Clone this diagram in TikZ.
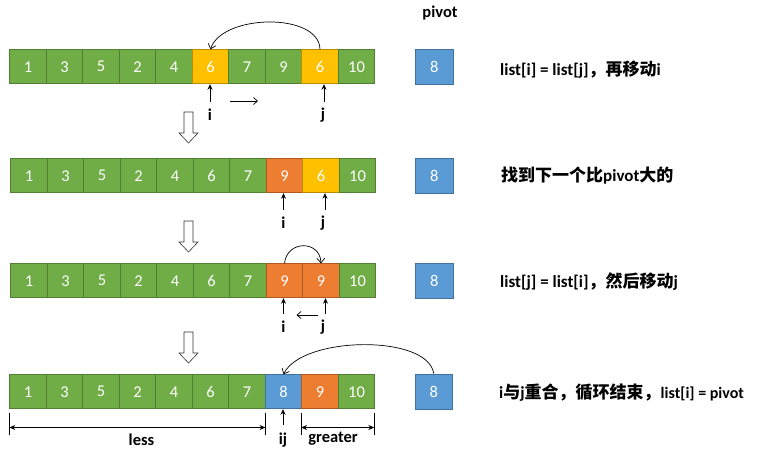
\documentclass[tikz,border=0pt]{standalone}
\usepackage{fontspec}
\setmainfont{Carlito}
\newfontfamily\cjk{Noto Sans CJK SC}
\usetikzlibrary{arrows.meta}
\definecolor{cgreen}{HTML}{70AD47}
\definecolor{cgreenb}{HTML}{507E32}
\definecolor{cyellow}{HTML}{FFC000}
\definecolor{cyellowb}{HTML}{BC8C00}
\definecolor{corange}{HTML}{ED7D31}
\definecolor{corangeb}{HTML}{AE5A21}
\definecolor{cblue}{HTML}{5B9BD5}
\definecolor{cblueb}{HTML}{41719C}
\newcommand\cj[1]{{\cjk\bfseries\fontsize{17}{18}\selectfont #1}}
\tikzset{
  cell/.style={draw, line width=0.9pt, minimum width=36.5pt, minimum height=34pt,
    inner sep=0pt, anchor=north west, text=white, font=\fontsize{16.5}{17}\selectfont},
  gcell/.style={cell, fill=cgreen, draw=cgreenb},
  ycell/.style={cell, fill=cyellow, draw=cyellowb},
  ocell/.style={cell, fill=corange, draw=corangeb},
  bcell/.style={cell, fill=cblue, draw=cblueb},
  pivbox/.style={cell, fill=cblue, draw=cblueb, minimum width=37.5pt, minimum height=35pt},
  lbl/.style={font=\bfseries\fontsize{16.5}{17}\selectfont, inner sep=0pt},
  desc/.style={font=\bfseries\fontsize{17}{18}\selectfont, anchor=west, inner sep=0pt},
  uparr/.style={line width=0.8pt, -{Stealth[length=5.5pt,width=5pt]}},
  curvarr/.style={line width=0.7pt, -{Straight Barb[length=4.5pt,width=8pt]}},
  movarr/.style={line width=0.7pt, -{Straight Barb[length=4pt,width=7pt]}},
  dimarr/.style={line width=0.8pt, {Stealth[length=6pt,width=5pt]}-{Stealth[length=6pt,width=5pt]}},
  tick/.style={line width=0.8pt},
  hollow/.style={line width=0.6pt, draw=black!80, fill=white}
}
\begin{document}
\begin{tikzpicture}[x=1pt, y=-1pt]
\useasboundingbox (0,0) rectangle (759,453);

% Row 1
\foreach \v/\s [count=\k] in {1/gcell,3/gcell,5/gcell,2/gcell,4/gcell,6/ycell,7/gcell,9/gcell,6/ycell,10/gcell}
  \node[\s] (r1c\k) at ({9.3+36.5*(\k-1)},49.3) {\v};
% Row 2
\foreach \v/\s [count=\k] in {1/gcell,3/gcell,5/gcell,2/gcell,4/gcell,6/gcell,7/gcell,9/ocell,6/ycell,10/gcell}
  \node[\s] (r2c\k) at ({10.3+36.5*(\k-1)},158.3) {\v};
% Row 3
\foreach \v/\s [count=\k] in {1/gcell,3/gcell,5/gcell,2/gcell,4/gcell,6/gcell,7/gcell,9/ocell,9/ocell,10/gcell}
  \node[\s] (r3c\k) at ({10.3+36.5*(\k-1)},263.3) {\v};
% Row 4
\foreach \v/\s [count=\k] in {1/gcell,3/gcell,5/gcell,2/gcell,4/gcell,6/gcell,7/gcell,8/bcell,9/ocell,10/gcell}
  \node[\s] (r4c\k) at ({9.3+36.5*(\k-1)},374.3) {\v};

% pivot boxes
\node[lbl] (pivlbl) at (440,13) {pivot};
\node[pivbox] (p1) at (415,49.3) {8};
\node[pivbox] (p2) at (415,157.5) {8};
\node[pivbox] (p3) at (415,262.5) {8};
\node[pivbox] (p4) at (414.5,373.5) {8};

% descriptions
\node[desc] (d1) at (500,70) {list[i] = list[j]\cj{，再移动}i};
\node[desc] (d2) at (501,176) {\cj{找到下一个比}pivot\cj{大的}};
\node[desc] (d3) at (500,282) {list[j] = list[i]\cj{，然后移动}j};
\node[desc] (d4) at (499,393) {i\cj{与}j\cj{重合，循环结束，}{\fontsize{16}{17}\selectfont list[i] = pivot}};

% hollow down arrows
\foreach \t in {112,221,332}
  \draw[hollow] (184,\t) -- (193,\t) -- (193,\t+21) -- (198,\t+21) -- (188.5,\t+31)
    -- (179,\t+21) -- (184,\t+21) -- cycle;

% Row 1 pointers
\node[lbl] (i1) at (210,115) {i};
\node[lbl] (j1) at (323,115) {j};
\coordinate (i1a) at (210,102);
\coordinate (j1a) at (324,102);
\draw[uparr] (i1a) -- (i1a |- r1c6.south);
\draw[uparr] (j1a) -- (j1a |- r1c9.south);
\coordinate (m1s) at (230,101);
\coordinate (m1e) at (258,101);
\draw[movarr] (m1s) -- (m1e);
\draw[curvarr] (r1c9.north) .. controls (319,12) and (222,14) .. (r1c6.north);

% Row 2 pointers
\node[lbl] (i2) at (283.5,223) {i};
\node[lbl] (j2) at (323,223) {j};
\coordinate (i2a) at (283.5,210);
\coordinate (j2a) at (325,210);
\draw[uparr] (i2a) -- (i2a |- r2c8.south);
\draw[uparr] (j2a) -- (j2a |- r2c9.south);

% Row 3 pointers
\node[lbl] (i3) at (283.5,327) {i};
\node[lbl] (j3) at (323,327) {j};
\coordinate (i3a) at (283.5,314);
\coordinate (j3a) at (325.5,314);
\draw[uparr] (i3a) -- (i3a |- r3c8.south);
\draw[uparr] (j3a) -- (j3a |- r3c9.south);
\coordinate (m3s) at (318,315);
\coordinate (m3e) at (296.5,315);
\draw[movarr] (m3s) -- (m3e);
\draw[curvarr] (r3c8.north) .. controls (287,240) and (320,240) .. (r3c9.north);

% Row 4
\draw[curvarr] (p4.north) .. controls (428,334) and (302,336) .. (r4c8.north);
\node[lbl] (ij) at (283,440) {ij};
\coordinate (ija) at (283,425);
\draw[uparr] (ija) -- (ija |- r4c8.south);

% dimension lines
\coordinate (l1t) at (9.3,413);   \coordinate (l1b) at (9.3,435);
\coordinate (l2t) at (265.5,413); \coordinate (l2b) at (265.5,435);
\coordinate (g1t) at (301,413);   \coordinate (g1b) at (301,435);
\coordinate (g2t) at (374.3,413); \coordinate (g2b) at (374.3,435);
\draw[tick] (l1t) -- (l1b);
\draw[tick] (l2t) -- (l2b);
\draw[tick] (g1t) -- (g1b);
\draw[tick] (g2t) -- (g2b);
\coordinate (l1m) at (9.3,427.5);  \coordinate (l2m) at (265.5,427.5);
\coordinate (g1m) at (301,427.5);  \coordinate (g2m) at (374.3,427.5);
\draw[dimarr] (l1m) -- (l2m);
\draw[dimarr] (g1m) -- (g2m);
\node[lbl] (less) at (141.5,440) {less};
\node[lbl] (greater) at (333,439) {greater};
\end{tikzpicture}
\end{document}
